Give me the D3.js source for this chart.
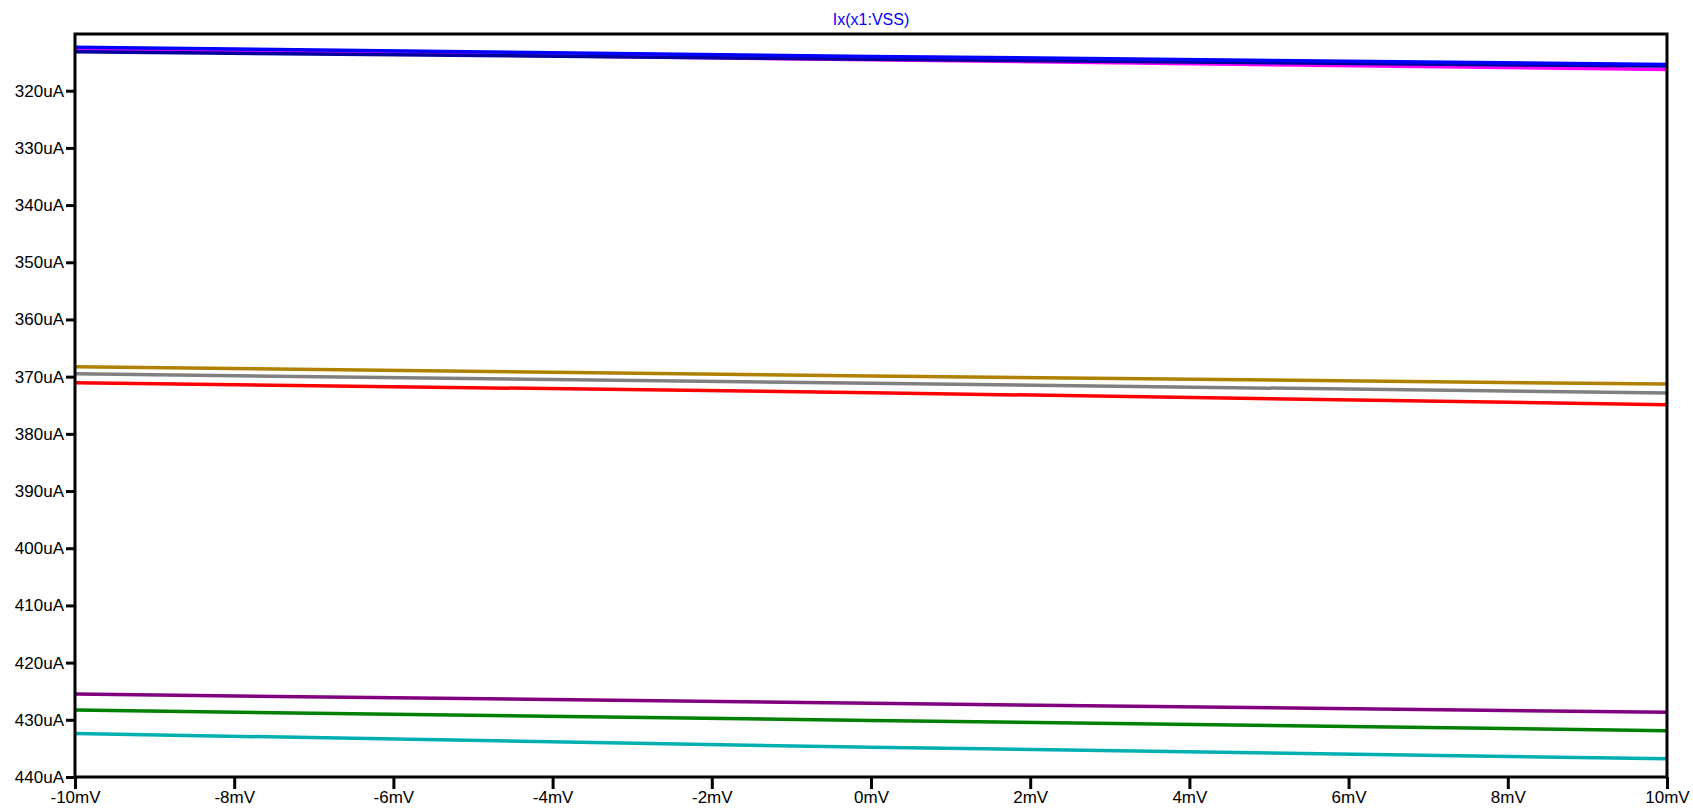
<!DOCTYPE html>
<html>
<head>
<meta charset="utf-8">
<script src="https://cdn.jsdelivr.net/npm/d3@7"></script>
<style>
    html, body { margin: 0; padding: 0; background: #fff; }
    svg { display: block; font-family: "Liberation Sans", Arial, sans-serif; }
</style>
</head>
<body>
<svg id="chart"></svg>
<script>
var sweepMv = [-10, 0, 10];

var traceColors = ['#0000ff', '#ff00ff', '#0000a0', '#b08000', '#808080', '#ff0000', '#800080', '#008000', '#00b0b0'];

// current in uA at each sweep point, one array per trace
var traceBlue = [312.4, 314.0, 315.4],
    traceMagenta = [312.85, 314.6, 316.3],
    traceNavy = [313.2, 314.5, 315.7],
    traceGold = [368.25, 369.9, 371.3],
    traceGray = [369.5, 371.15, 372.85],
    traceRed = [371.05, 372.8, 374.9],
    tracePurple = [425.5, 427.1, 428.7],
    traceGreen = [428.3, 430.1, 431.9],
    traceCyan = [432.4, 434.8, 436.8];

var yTicks = [320, 330, 340, 350, 360, 370, 380, 390, 400, 410, 420, 430, 440],
    xTicks = [-10, -8, -6, -4, -2, 0, 2, 4, 6, 8, 10];

var title = 'Ix(x1:VSS)';

var width = 1693,
    height = 809,
    plotLeft = 75,
    plotRight = 1667,
    plotTop = 34,
    plotBottom = 777;

var svg = d3.select('#chart')
    .attr('width', width)
    .attr('height', height);

var x = d3.scaleLinear().domain([-10, 10]).range([plotLeft, plotRight]),
    // axis runs downward: small currents on top
    y = d3.scaleLinear().domain([320, 440]).range([90.7, plotBottom]);

// drawing order: magenta sits under the two blues
var traces = [traceMagenta, traceNavy, traceBlue, traceGold, traceGray, traceRed, tracePurple, traceGreen, traceCyan],
    colorOf = [1, 2, 0, 3, 4, 5, 6, 7, 8];

var line = d3.line()
    .x(function(d, i) { return x(sweepMv[i]); })
    .y(function(d) { return y(d); });

svg.append('g')
    .selectAll('path')
    .data(traces)
  .enter().append('path')
    .attr('d', line)
    .style('fill', 'none')
    .style('stroke', function(d, i) { return traceColors[colorOf[i]]; })
    .style('stroke-width', '3.5px');

// frame
svg.append('rect')
    .attr('x', plotLeft)
    .attr('y', plotTop)
    .attr('width', plotRight - plotLeft)
    .attr('height', plotBottom - plotTop)
    .style('fill', 'none')
    .style('stroke', '#000')
    .style('stroke-width', '3px');

var yAxis = svg.append('g')
    .attr('transform', 'translate(' + plotLeft + ',0)')
    .call(d3.axisLeft(y).tickValues(yTicks).tickSize(9).tickPadding(2)
        .tickFormat(function(d) { return d + 'uA'; }));

var xAxis = svg.append('g')
    .attr('transform', 'translate(0,' + plotBottom + ')')
    .call(d3.axisBottom(x).tickValues(xTicks).tickSize(12).tickPadding(2)
        .tickFormat(function(d) { return d + 'mV'; }));

[yAxis, xAxis].forEach(function(ax) {
    ax.select('.domain').remove();
    ax.selectAll('line').style('stroke', '#000').style('stroke-width', '3px');
    ax.selectAll('text')
        .style('fill', '#000')
        .style('font-family', '"Liberation Sans", Arial, sans-serif')
        .style('font-size', '17px');
});

svg.append('text')
    .attr('x', (plotLeft + plotRight) / 2)
    .attr('y', 25)
    .attr('text-anchor', 'middle')
    .style('fill', '#0000ff')
    .style('font-size', '16px')
    .text(title);
</script>
</body>
</html>
